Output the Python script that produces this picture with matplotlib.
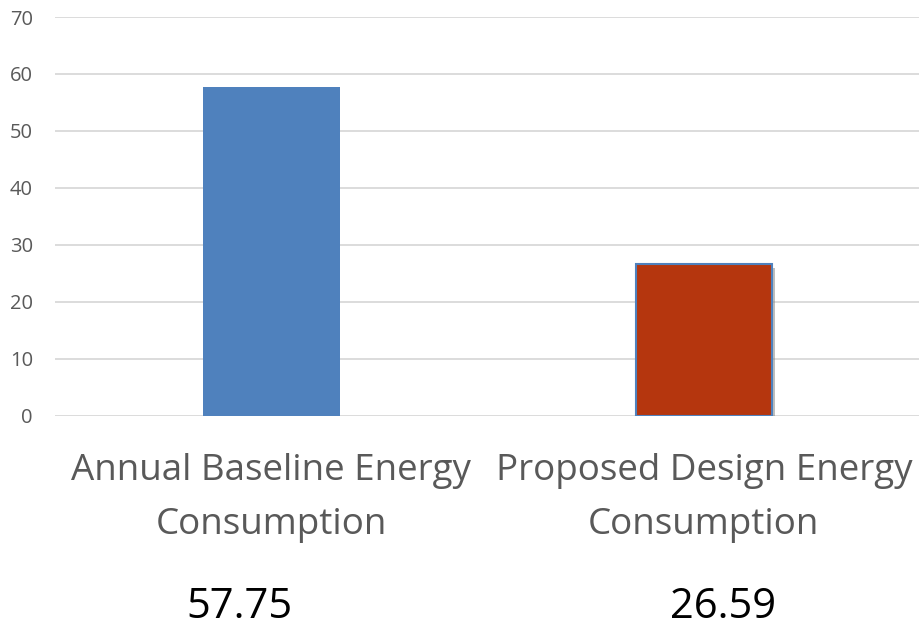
import matplotlib
matplotlib.use("Agg")
import matplotlib.pyplot as plt
import matplotlib.patheffects as pe

categories = ["Annual Baseline Energy\nConsumption", "Proposed Design Energy\nConsumption"]
values = [57.75, 26.59]
value_labels = ["57.75", "26.59"]
bar_colors = ["#4F81BD", "#B5360E"]
yticks = [0, 10, 20, 30, 40, 50, 60, 70]

plt.rcParams["font.family"] = ["Open Sans", "DejaVu Sans"]
text_gray = "#595959"

fig = plt.figure(figsize=(9.2, 6.3), dpi=100)
ax = fig.add_axes([0.060, 0.340, 0.940, 0.633])

x = list(range(len(categories)))
bars = ax.bar(x, values, width=0.315, color=bar_colors, zorder=3)
# second bar carries an outline and a soft drop shadow
bars[1].set_edgecolor("#4F81BD")
bars[1].set_linewidth(1.5)
bars[1].set_path_effects([pe.SimplePatchShadow(offset=(2, -3), shadow_rgbFace="#7f7f7f", alpha=0.5), pe.Normal()])

ax.set_xlim(-0.5, 1.5)
ax.set_ylim(0, 70)
ax.set_yticks(yticks)
ax.set_yticklabels([str(t) for t in yticks], fontsize=14.5, color=text_gray)
ax.tick_params(axis="y", length=0, pad=16)
ax.set_xticks(x)
ax.set_xticklabels(categories, fontsize=26.5, color=text_gray, linespacing=1.66)
ax.tick_params(axis="x", length=0, pad=27)
ax.grid(axis="y", color="#D9D9D9", linewidth=1.3, zorder=0)
for s in ax.spines.values():
    s.set_visible(False)

# value captions below the category names, baseline-aligned
fig.text(239 / 920, 1 - 618 / 630, value_labels[0], fontsize=30, color="black", ha="center", va="baseline")
fig.text(723 / 920, 1 - 618 / 630, value_labels[1], fontsize=30, color="black", ha="center", va="baseline")

fig.savefig("out.png", dpi=100, facecolor="white")
